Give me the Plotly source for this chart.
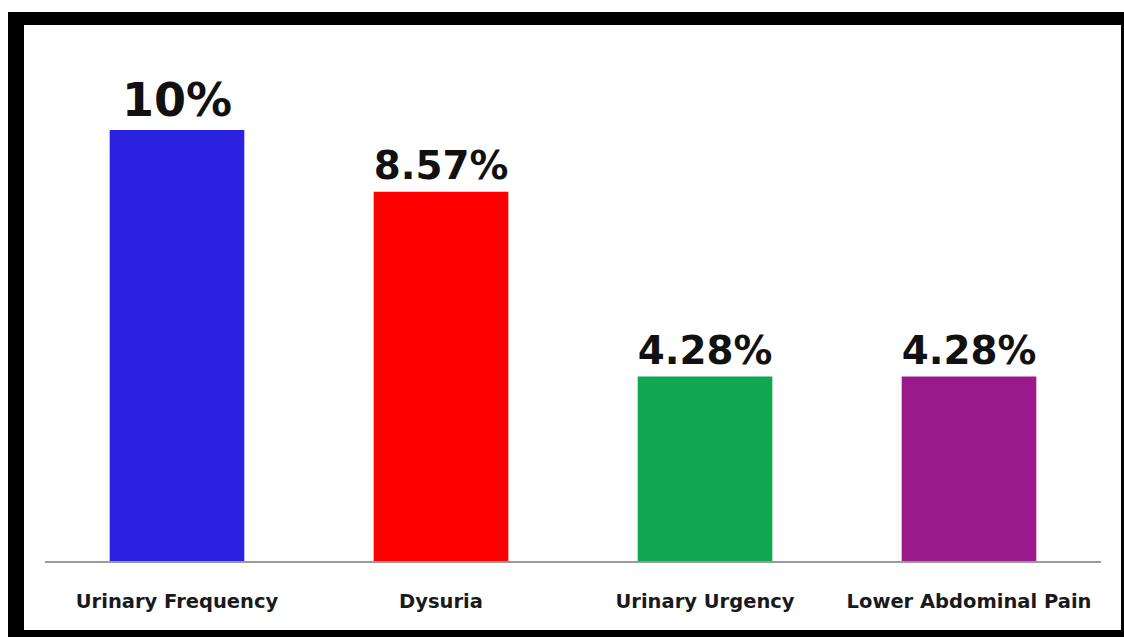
import plotly.graph_objects as go

categories = ["Urinary Frequency", "Dysuria", "Urinary Urgency", "Lower Abdominal Pain"]
values = [10, 8.57, 4.28, 4.28]
labels = ["10%", "8.57%", "4.28%", "4.28%"]
colors = ["#2b21e0", "#fe0000", "#10a751", "#9b1a8b"]

W, H = 1124, 637
L, R, T, B = 45, 23, 30, 76
pw, ph = W - L - R, H - T - B

def px(x):
    return (x - L) / pw

def py(y):
    return (H - B - y) / ph

fig = go.Figure()
fig.add_trace(go.Bar(
    x=categories, y=values, marker_color=colors, marker_line_width=0,
    text=labels, textposition="outside", cliponaxis=False,
    textfont=dict(family="DejaVu Sans", size=46, color="#111111", weight="bold"),
))

shapes = []
for (x0, y0, x1, y1) in [(8, 12, 1124, 25), (8, 12, 24, 637), (1121, 12, 1124, 637), (8, 630, 1124, 637)]:
    shapes.append(dict(type="rect", xref="paper", yref="paper",
                       x0=px(x0), x1=px(x1), y0=py(y1), y1=py(y0),
                       fillcolor="black", line_width=0, layer="above"))

fig.update_layout(
    width=W, height=H, margin=dict(l=L, r=R, t=T, b=B),
    paper_bgcolor="white", plot_bgcolor="white",
    bargap=0.49, showlegend=False,
    xaxis=dict(showline=True, linecolor="#9a9a9a", linewidth=1.5,
               ticks="outside", ticklen=22, tickcolor="rgba(0,0,0,0)",
               tickfont=dict(family="DejaVu Sans", size=19.5, color="#1a1a1a", weight="bold"),
               showgrid=False, range=[-0.5, 3.5]),
    yaxis=dict(visible=False, range=[0, ph / 43.1]),
    shapes=shapes,
)

fig.write_html("out.html", config={"displayModeBar": False},
               post_script="document.body.style.margin='0';document.body.style.overflow='hidden';")
